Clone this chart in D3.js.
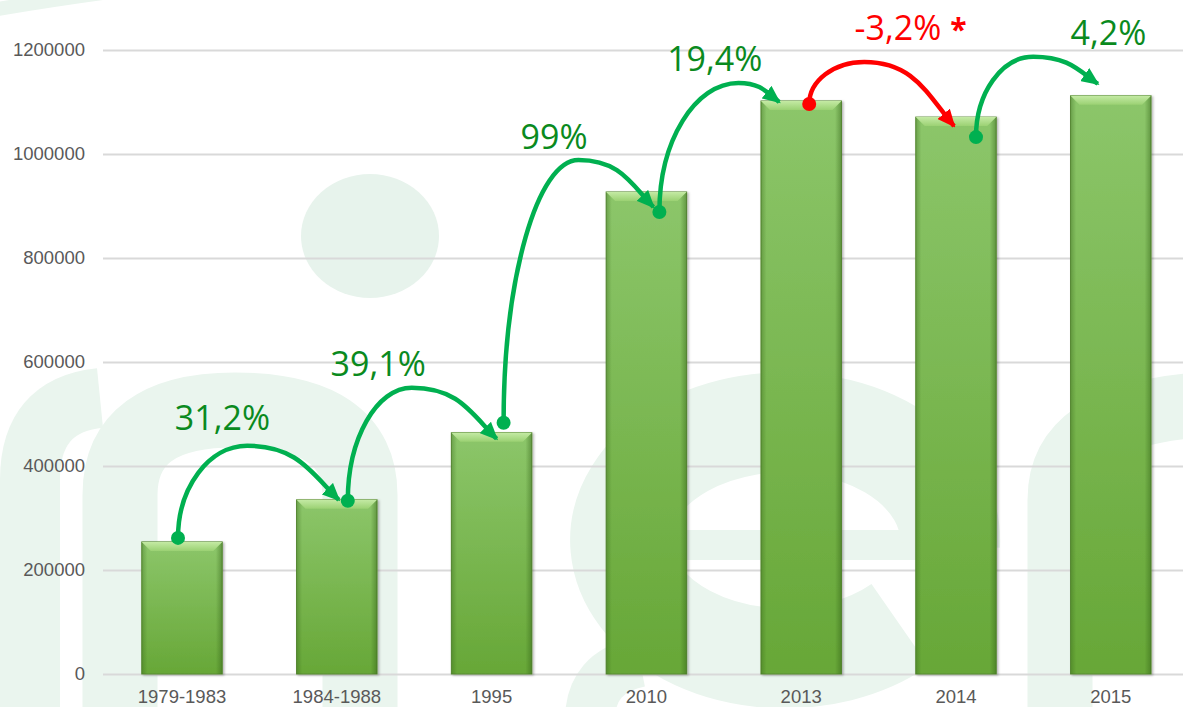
<!DOCTYPE html>
<html>
<head>
<meta charset="utf-8">
<script src="https://cdn.jsdelivr.net/npm/d3@7"></script>
<style>
body{margin:0;background:#fff;}
svg{display:block;font-family:Roboto,"Liberation Sans",sans-serif;}
.axis text{fill:#595959;font-size:18.5px;}
.axis .domain{display:none;}
.grid line{stroke:#d9d9d9;stroke-width:2;}
.xaxis line{display:none;}
.change text{font-family:"Open Sans","Noto Sans",sans-serif;}
</style>
</head>
<body>
<script>
//wrap everything in a self executing function
(function(){
//chart data
var categories = ["1979-1983", "1984-1988", "1995", "2010", "2013", "2014", "2015"];
var visitors = [254000, 335000, 464000, 927000, 1102000, 1071000, 1112000];
var yTicks = [0, 200000, 400000, 600000, 800000, 1000000, 1200000];
var changeLabels = ["31,2%", "39,1%", "99%", "19,4%", "-3,2%", "4,2%"];
var changeNotes = ["", "", "", "", "*", ""];
var changeUp = [true, true, true, true, false, true];

var width = 1183,
    height = 707;

var svg = d3.select("body")
    .append("svg")
    .attr("width", width)
    .attr("height", height);

var defs = svg.append("defs");

//bar gradients
var barGrad = defs.append("linearGradient").attr("id", "barGrad")
    .attr("x1", 0).attr("y1", 0).attr("x2", 0).attr("y2", 1);
barGrad.append("stop").attr("offset", "0%").attr("stop-color", "#8cc66a");
barGrad.append("stop").attr("offset", "100%").attr("stop-color", "#67a737");

var edgeGrad = defs.append("linearGradient").attr("id", "edgeGrad")
    .attr("x1", 0).attr("y1", 0).attr("x2", 1).attr("y2", 0);
edgeGrad.append("stop").attr("offset", "0%").attr("stop-color", "#2f5e14").attr("stop-opacity", 0.35);
edgeGrad.append("stop").attr("offset", "7%").attr("stop-color", "#2f5e14").attr("stop-opacity", 0);
edgeGrad.append("stop").attr("offset", "92%").attr("stop-color", "#2f5e14").attr("stop-opacity", 0);
edgeGrad.append("stop").attr("offset", "100%").attr("stop-color", "#2f5e14").attr("stop-opacity", 0.45);

var bevelGrad = defs.append("linearGradient").attr("id", "bevelGrad")
    .attr("x1", 0).attr("y1", 0).attr("x2", 0).attr("y2", 1);
bevelGrad.append("stop").attr("offset", "0%").attr("stop-color", "#c4eaa4");
bevelGrad.append("stop").attr("offset", "100%").attr("stop-color", "#9bd173");

var shadow = defs.append("filter").attr("id", "shadow")
    .attr("x", "-10%").attr("y", "-10%").attr("width", "130%").attr("height", "130%");
shadow.append("feDropShadow")
    .attr("dx", 1.5).attr("dy", 1).attr("stdDeviation", 1.2)
    .attr("flood-color", "#000").attr("flood-opacity", 0.3);

//arrow heads
[["green", "#00b050"], ["red", "#ff0000"]].forEach(function(m){
    defs.append("marker")
        .attr("id", "head-" + m[0])
        .attr("viewBox", "0 -8 18 16")
        .attr("refX", 16).attr("refY", 0)
        .attr("markerWidth", 18).attr("markerHeight", 16)
        .attr("markerUnits", "userSpaceOnUse")
        .attr("orient", "auto")
        .append("path")
        .attr("d", "M0,-8L18,0L0,8Z")
        .attr("fill", m[1]);
});

//faint background watermark
svg.append("ellipse").attr("cx", 370).attr("cy", 236).attr("rx", 69).attr("ry", 62).attr("fill", "#e7f3ec");
var wm = svg.append("g")
    .attr("fill", "none")
    .attr("stroke", "#eaf5ee")
    .attr("stroke-linecap", "butt");
wm.append("path").attr("d", "M-20 12 Q50 0 110 -8").attr("stroke-width", 14);
wm.append("path").attr("d", "M30 720 V480 Q30 405 100 398").attr("stroke-width", 60);
wm.append("path").attr("d", "M120 720 V495 Q120 410 235 410 Q360 410 360 495 V720").attr("stroke-width", 75);
wm.append("path").attr("d", "M950 545 H680").attr("stroke-width", 30);
wm.append("path").attr("d", "M950 545 A165 118 0 1 0 900 625").attr("stroke-width", 100);
wm.append("path").attr("d", "M590 720 Q590 672 640 662").attr("stroke-width", 50);
wm.append("path").attr("d", "M1060 720 V500 Q1060 415 1200 405").attr("stroke-width", 65);

//scales
var x = d3.scaleBand()
    .domain(categories)
    .range([104.6, 1188.2])
    .paddingInner(0.48)
    .paddingOuter(0.24);

var y = d3.scaleLinear()
    .domain([0, 1200000])
    .range([674, 50]);

//gridlines and y labels
var yAxis = d3.axisLeft(y)
    .tickValues(yTicks)
    .tickFormat(d3.format("d"))
    .tickSize(-(width - 103))
    .tickPadding(18);

svg.append("g")
    .attr("class", "axis grid")
    .attr("transform", "translate(103,0)")
    .call(yAxis);

//x labels
var xAxis = d3.axisBottom(x)
    .tickSize(0)
    .tickPadding(16);

svg.append("g")
    .attr("class", "axis xaxis")
    .attr("transform", "translate(0," + y(0) + ")")
    .call(xAxis);

//bars
var bars = svg.selectAll(".bar")
    .data(visitors)
    .enter()
    .append("g")
    .attr("class", "bar");

bars.append("rect")
    .attr("x", function(d, i){ return x(categories[i]); })
    .attr("y", function(d){ return y(d); })
    .attr("width", x.bandwidth())
    .attr("height", function(d){ return y(0) - y(d); })
    .attr("fill", "url(#barGrad)")
    .attr("stroke", "#5c8d37")
    .attr("stroke-width", 1)
    .attr("filter", "url(#shadow)");

bars.append("rect")
    .attr("x", function(d, i){ return x(categories[i]); })
    .attr("y", function(d){ return y(d); })
    .attr("width", x.bandwidth())
    .attr("height", function(d){ return y(0) - y(d); })
    .attr("fill", "url(#edgeGrad)");

bars.append("path")
    .attr("d", function(d, i){
        var x0 = x(categories[i]), x1 = x0 + x.bandwidth(), t = y(d), b = 9;
        return "M" + x0 + "," + t + "H" + x1 + "L" + (x1 - b) + "," + (t + b) + "H" + (x0 + b) + "Z";
    })
    .attr("fill", "url(#bevelGrad)");

//growth arrows - placement tweaks relative to bar tops
var tweaks = [
    {sx: -4, sy: -4, ex: 2, ey: 0, lift: 54, pf: 0.43, lx: -37, ly: 16},
    {sx: 11, sy: 1, ex: 5, ey: 6, lift: 45, pf: 0.43, lx: -36, ly: 12},
    {sx: 12, sy: -10, ex: 7, ey: 15, lift: 32, pf: 0.5, lx: -15, ly: 11},
    {sx: 13, sy: 20, ex: -22, ey: 1, lift: 18, pf: 0.66, lx: -9, ly: 12},
    {sx: 8, sy: 3, ex: -2, ey: 9, lift: 39, pf: 0.38, lx: 32, ly: 22},
    {sx: 20, sy: 20, ex: -13, ey: -12, lift: 39, pf: 0.47, lx: 75, ly: 12}
];

var arrows = svg.selectAll(".change")
    .data(d3.range(changeLabels.length))
    .enter()
    .append("g")
    .attr("class", "change")
    .each(function(i){
        var g = d3.select(this),
            t = tweaks[i],
            color = changeUp[i] ? "#00b050" : "#ff0000",
            textColor = changeUp[i] ? "#0a8a1e" : "#ff0000";
        var c0 = x(categories[i]) + x.bandwidth() / 2,
            c1 = x(categories[i + 1]) + x.bandwidth() / 2,
            top0 = y(visitors[i]),
            top1 = y(visitors[i + 1]);
        var sx = c0 + t.sx, sy = top0 + t.sy,
            ex = c1 + t.ex, ey = top1 + t.ey,
            py = Math.min(top0, top1) - t.lift,
            px = sx + (ex - sx) * t.pf;
        var p = d3.path();
        p.moveTo(sx, sy);
        p.bezierCurveTo(sx, sy - 0.55 * (sy - py), px - 0.55 * (px - sx), py, px, py);
        p.bezierCurveTo(px + 0.55 * (ex - px), py, ex - 0.3 * (ex - px), ey - 0.5 * (ey - py), ex, ey);
        g.append("path")
            .attr("d", p.toString())
            .attr("fill", "none")
            .attr("stroke", color)
            .attr("stroke-width", 4.5)
            .attr("marker-end", "url(#head-" + (changeUp[i] ? "green" : "red") + ")");
        g.append("circle")
            .attr("cx", sx).attr("cy", sy).attr("r", 7)
            .attr("fill", color);
        var label = g.append("text")
            .attr("x", (c0 + c1) / 2 + t.lx)
            .attr("y", py - t.ly)
            .attr("text-anchor", "middle")
            .attr("fill", textColor)
            .style("font-size", "34px")
            .text(changeLabels[i]);
        if (changeNotes[i]){
            label.append("tspan")
                .attr("dx", 9)
                .style("font-weight", "bold")
                .style("font-size", "30px")
                .text(changeNotes[i]);
        }
    });

})();
</script>
</body>
</html>
